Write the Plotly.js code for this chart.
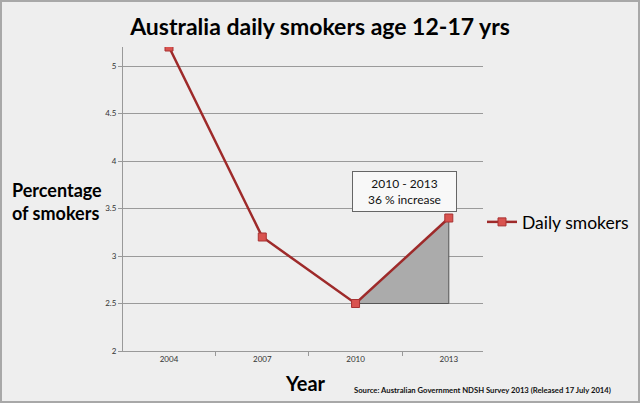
<!DOCTYPE html>
<html>
<head>
<meta charset="utf-8">
<script src="https://cdn.plot.ly/plotly-3.0.1.min.js"></script>
<style>
html,body{margin:0;padding:0;background:#eeeeee;}
#wrap{position:relative;width:640px;height:403px;}
#chart{width:640px;height:403px;}
#frame{position:absolute;left:0;top:0;width:636px;height:399px;border:2px solid #a8a8a8;pointer-events:none;}
</style>
</head>
<body>
<div id="wrap"><div id="chart"></div><div id="frame"></div></div>
<script>
const years = [2004, 2007, 2010, 2013];
const yearLabels = ['2004', '2007', '2010', '2013'];
const dailySmokers = [5.2, 3.2, 2.5, 3.4];
const shadeX = [2010, 2013, 2013, 2010];
const shadeY = [2.5, 3.4, 2.5, 2.5];

const traces = [
  {
    x: shadeX, y: shadeY, type: 'scatter', mode: 'lines',
    fill: 'toself', fillcolor: '#ababab',
    line: {color: '#555555', width: 1},
    showlegend: false, hoverinfo: 'skip'
  },
  {
    x: years, y: dailySmokers, type: 'scatter', mode: 'lines+markers',
    name: 'Daily smokers',
    line: {color: '#9e2a2a', width: 2.5},
    marker: {symbol: 'square', size: 8, color: '#d9534f', line: {color: '#a83232', width: 1}}
  }
];

const font = 'Lato, "Open Sans", "DejaVu Sans", sans-serif';

const layout = {
  width: 640, height: 403,
  paper_bgcolor: '#eeeeee', plot_bgcolor: '#eeeeee',
  margin: {l: 123, r: 157, t: 47, b: 52, autoexpand: false},
  font: {family: font, color: '#222'},
  title: {
    text: '<b>Australia daily smokers age 12-17 yrs</b>',
    font: {family: font, size: 23, color: '#000'},
    x: 0.5, xanchor: 'center', y: 1 - 27/403, yanchor: 'middle', xref: 'container', yref: 'container'
  },
  xaxis: {
    range: [2002.52, 2014.1],
    tickmode: 'array', tickvals: years, ticktext: yearLabels,
    ticks: '', showgrid: false, zeroline: false,
    showline: true, linecolor: '#999', linewidth: 1,
    tickfont: {size: 8, color: '#333', family: font},
    minor: {tick0: 2005.5, dtick: 3, ticks: 'outside', ticklen: 4, tickcolor: '#999', showgrid: false}
  },
  yaxis: {
    range: [2, 5.2],
    tick0: 2, dtick: 0.5,
    showgrid: true, gridcolor: '#9a9a9a', gridwidth: 1,
    zeroline: false, showline: true, linecolor: '#999', linewidth: 1,
    ticks: 'outside', ticklen: 4, tickcolor: '#999',
    tickfont: {size: 8, color: '#333', family: font}
  },
  legend: {
    x: (482-123)/360, xanchor: 'left', y: (351-222)/304, yanchor: 'middle',
    font: {size: 17.5, color: '#000', family: font},
    bgcolor: 'rgba(0,0,0,0)', itemwidth: 30
  },
  annotations: [
    {
      xref: 'paper', yref: 'paper', x: (404-123)/360, y: (351-191)/304,
      xanchor: 'center', yanchor: 'middle',
      text: '2010 - 2013<br>36 % increase', showarrow: false,
      font: {size: 12, color: '#111', family: font},
      bgcolor: '#f8f8f8', bordercolor: '#666', borderwidth: 1, borderpad: 4,
      width: 95, align: 'center'
    },
    {
      xref: 'paper', yref: 'paper', x: (57-123)/360, y: (351-201)/304, xanchor: 'center', yanchor: 'middle',
      text: '<b>Percentage<br>of smokers</b>', showarrow: false, align: 'left',
      font: {size: 18, color: '#000', family: font}
    },
    {
      xref: 'paper', yref: 'paper', x: (305-123)/360, y: -(383-351)/304, xanchor: 'center', yanchor: 'middle',
      text: '<b>Year</b>', showarrow: false,
      font: {size: 20, color: '#000', family: font}
    },
    {
      xref: 'paper', yref: 'paper', x: (613-123)/360, y: -(390-351)/304, xanchor: 'right', yanchor: 'middle',
      text: '<b>Source: Australian Government NDSH Survey 2013 (Released 17 July 2014)</b>', showarrow: false,
      font: {size: 7.7, color: '#111', family: font}
    }
  ]
};

Plotly.newPlot('chart', traces, layout, {displayModeBar: false, staticPlot: true});
</script>
</body>
</html>
